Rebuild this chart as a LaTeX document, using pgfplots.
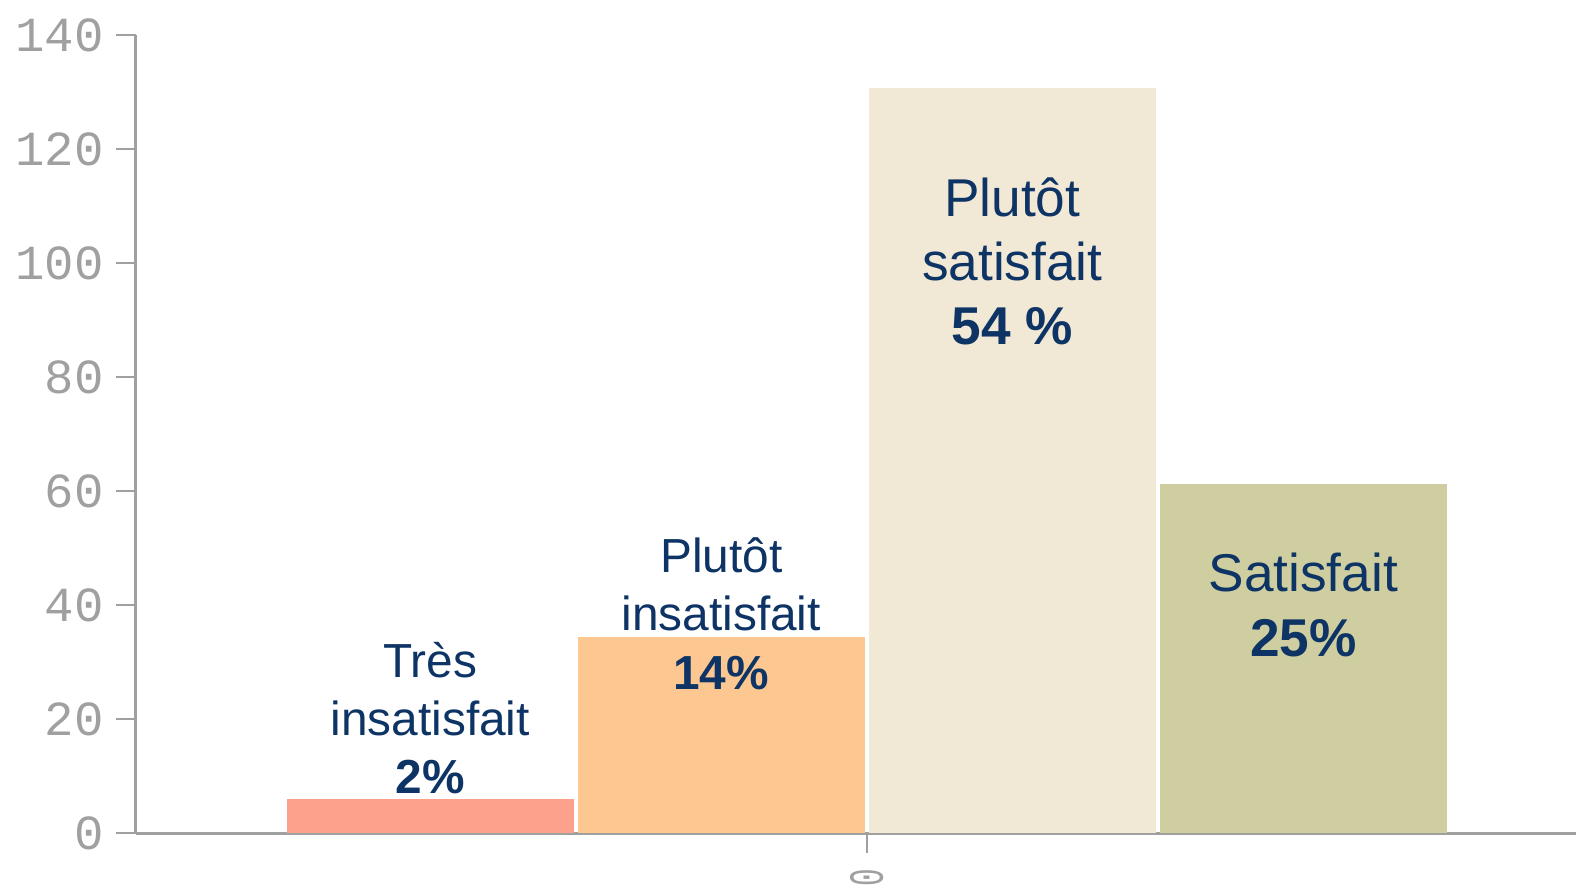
\documentclass[border=0pt]{standalone}
\usepackage{pgfplots}
\pgfplotsset{compat=1.18}
\usepackage{fontspec}
\setmainfont{Liberation Sans}
\newfontfamily\tickfont{Liberation Mono}
\definecolor{c1}{RGB}{253,160,140}
\definecolor{c2}{RGB}{252,199,145}
\definecolor{c3}{RGB}{241,232,213}
\definecolor{c4}{RGB}{207,206,161}
\definecolor{txt}{RGB}{13,52,100}
\definecolor{axgray}{RGB}{160,160,160}
\begin{document}
\begin{tikzpicture}
\begin{axis}[
  scale only axis,
  width=720.15pt, height=399pt,
  xmin=-2.512, xmax=2.437,
  ymin=0, ymax=140,
  axis x line=bottom, axis y line=left,
  axis line style={-, axgray, line width=1.4pt},
  ytick={0,20,...,140},
  xtick={0},
  xticklabels={0},
  tick align=outside,
  major tick length=10pt,
  tick style={axgray, line width=1.1pt},
  /pgf/number format/assume math mode=true,
  yticklabel style={font=\tickfont\fontsize{24.5}{24.5}\selectfont, text=axgray, xshift=-2.5pt},
  xticklabel style={font=\tickfont\fontsize{24.5}{24.5}\selectfont, text=axgray, rotate=90, anchor=east, xscale=0.6, inner sep=0pt, xshift=-13pt},
  clip=false,
]
\addplot[ybar, bar width=0.986, bar shift=0pt, fill=c1, draw=none] coordinates {(-1.5,6.0)};
\addplot[ybar, bar width=0.986, bar shift=0pt, fill=c2, draw=none] coordinates {(-0.5,34.4)};
\addplot[ybar, bar width=0.986, bar shift=0pt, fill=c3, draw=none] coordinates {(0.5,130.8)};
\addplot[ybar, bar width=0.986, bar shift=0pt, fill=c4, draw=none] coordinates {(1.5,61.3)};

\node[align=center, text=txt, inner sep=0pt, font=\fontsize{23.9}{29.2}\selectfont] at (axis cs:-1.5,20.2) {Très\\insatisfait\\\textbf{2\%}};
\node[align=center, text=txt, inner sep=0pt, font=\fontsize{23.9}{29.2}\selectfont] at (axis cs:-0.5,38.5) {Plutôt\\insatisfait\\\textbf{14\%}};
\node[align=center, text=txt, inner sep=0pt, font=\fontsize{26.6}{31.8}\selectfont] at (axis cs:0.5,100.3) {Plutôt\\satisfait\\\textbf{54 \%}};
\node[align=center, text=txt, inner sep=0pt, font=\fontsize{26.6}{32.5}\selectfont] at (axis cs:1.5,40.0) {Satisfait\\\textbf{25\%}};

\coordinate (BBa) at ([xshift=-67.85pt,yshift=-27.5pt]rel axis cs:0,0);
\coordinate (BBb) at ([yshift=17.6pt]rel axis cs:1,1);
\end{axis}
\pgfresetboundingbox
\path[use as bounding box] (BBa) rectangle (BBb);
\end{tikzpicture}
\end{document}
